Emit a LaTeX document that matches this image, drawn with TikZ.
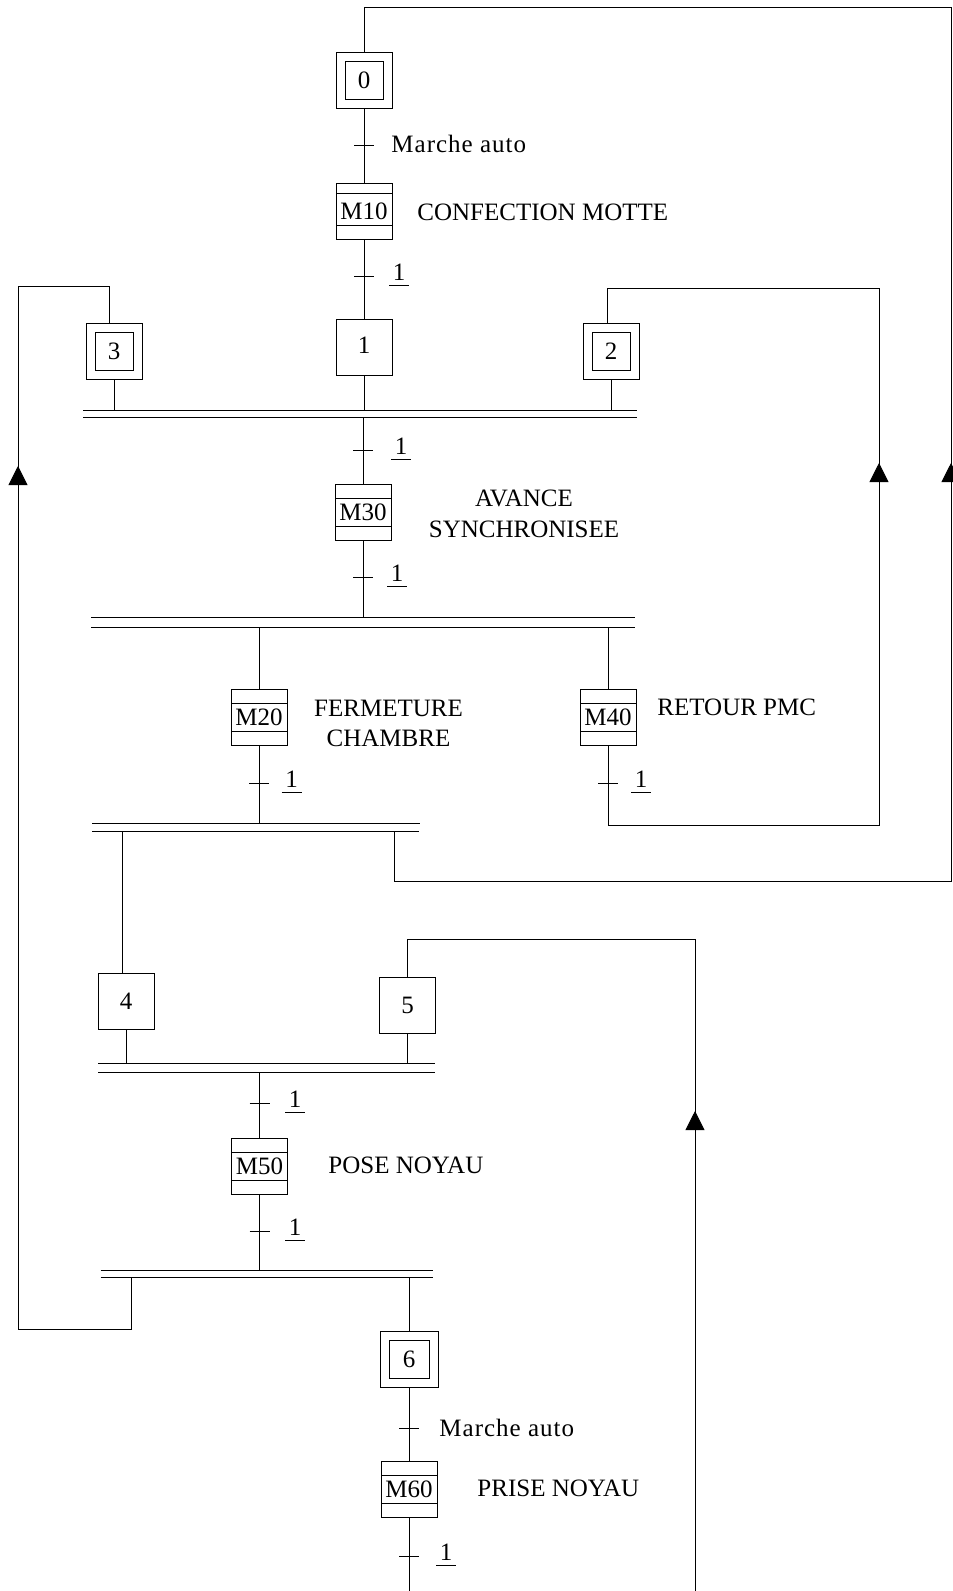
\documentclass[tikz,border=0pt]{standalone}
\usepackage{fontspec}
\setmainfont{Liberation Serif}
\usetikzlibrary{arrows.meta}
\newcommand{\fsz}{\fontsize{25}{27}\selectfont}
\newcommand{\ulone}{\vbox{\hbox to 20pt{\hss 1\hss}\kern4.5pt\hrule height 0.8pt}}
\begin{document}
\begin{tikzpicture}[x=1pt,y=-1pt,line width=0.9pt,
  every node/.style={font=\fsz},
  stepbox/.style={draw,minimum width=56pt,minimum height=56pt,inner sep=0pt},
  initstep/.style={stepbox,path picture={\draw ([shift={(9pt,9pt)}]path picture bounding box.south west) rectangle ([shift={(-9pt,-9pt)}]path picture bounding box.north east);}},
  macrostep/.style={stepbox,path picture={
     \draw ([yshift=-#1pt]path picture bounding box.north west) -- ([yshift=-#1pt]path picture bounding box.north east);
     \draw ([yshift=14pt]path picture bounding box.south west) -- ([yshift=14pt]path picture bounding box.south east);}},
  macrostep/.default=14,
  tickn/.style={inner sep=0pt,minimum size=0pt},
  lbl/.style={inner sep=0pt},
  spaced/.style={font=\fsz\addfontfeature{LetterSpace=4}},
  arr/.style={-{Triangle[width=19pt,length=19pt]}},
]
\useasboundingbox (0,0) rectangle (953,1591);

% ---------- steps ----------
\node[initstep] (s0) at (364,80) {0};
\node[macrostep=10] (m10) at (364,211.5) {M10};
\node[stepbox] (s1) at (364,347.5) {\raisebox{4pt}{1}};
\node[initstep] (s3) at (114,351.5) {3};
\node[initstep] (s2) at (611,351.5) {2};
\node[macrostep] (m30) at (363,512) {M30};
\node[macrostep] (m20) at (259,717.5) {M20};
\node[macrostep] (m40) at (608,717.5) {M40};
\node[stepbox] (s4) at (126,1001.3) {4};
\node[stepbox] (s5) at (407.5,1005.5) {5};
\node[macrostep] (m50) at (259.5,1166.7) {M50};
\node[initstep,minimum width=58pt] (s6) at (409,1359.5) {6};
\node[macrostep] (m60) at (409,1489.5) {M60};

% ---------- transitions ----------
\node[tickn] (t0) at (364,145) {\rule[-0.45pt]{20pt}{0.9pt}};
\node[tickn] (t1) at (364,276) {\rule[-0.45pt]{20pt}{0.9pt}};
\node[tickn] (t2) at (363,450) {\rule[-0.45pt]{20pt}{0.9pt}};
\node[tickn] (t3) at (363,577) {\rule[-0.45pt]{20pt}{0.9pt}};
\node[tickn] (t4) at (259,783) {\rule[-0.45pt]{20pt}{0.9pt}};
\node[tickn] (t5) at (608,783) {\rule[-0.45pt]{20pt}{0.9pt}};
\node[tickn] (t6) at (259.5,1103) {\rule[-0.45pt]{20pt}{0.9pt}};
\node[tickn] (t7) at (259.5,1231) {\rule[-0.45pt]{20pt}{0.9pt}};
\node[tickn] (t8) at (409,1428) {\rule[-0.45pt]{20pt}{0.9pt}};
\node[tickn] (t9) at (409,1556) {\rule[-0.45pt]{20pt}{0.9pt}};

% ---------- labels ----------
\node[lbl,spaced,anchor=west] (l0) at (391,144) {Marche auto};
\node[lbl,anchor=west] (d10) at (417,212.5) {CONFECTION MOTTE};
\node[lbl] (l1) at (399,275) {\ulone};
\node[lbl] (l2) at (401,449) {\ulone};
\node[lbl] (l3) at (397,576) {\ulone};
\node[lbl,align=center] (d30) at (524,513.5) {AVANCE\\[4pt]SYNCHRONISEE};
\node[lbl,align=center] (d20) at (388.5,723) {FERMETURE\\[3pt]CHAMBRE};
\node[lbl,anchor=west] (d40) at (657,707) {RETOUR PMC};
\node[lbl] (l4) at (291.5,782) {\ulone};
\node[lbl] (l5) at (641,782) {\ulone};
\node[lbl] (l6) at (295,1102) {\ulone};
\node[lbl,anchor=west] (d50) at (328,1165) {POSE NOYAU};
\node[lbl] (l7) at (295,1230) {\ulone};
\node[lbl,spaced,anchor=west] (l8) at (439,1428) {Marche auto};
\node[lbl,anchor=west] (d60) at (477,1488.3) {PRISE NOYAU};
\node[lbl] (l9) at (446,1555) {\ulone};

% ---------- double bars ----------
\coordinate (b1a) at (83,410);   \coordinate (b1b) at (637,410);
\coordinate (b1c) at (83,417.5); \coordinate (b1d) at (637,417.5);
\coordinate (b2a) at (91,617.7); \coordinate (b2b) at (635,617.7);
\coordinate (b2c) at (91,627.7); \coordinate (b2d) at (635,627.7);
\coordinate (b3a) at (92,823);   \coordinate (b3b) at (420,823);
\coordinate (b3c) at (92,831);   \coordinate (b3d) at (419,831);
\coordinate (b4a) at (98,1063.7); \coordinate (b4b) at (435,1063.7);
\coordinate (b4c) at (98,1072);   \coordinate (b4d) at (435,1072);
\coordinate (b5a) at (100.7,1270);   \coordinate (b5b) at (432.7,1270);
\coordinate (b5c) at (100.7,1277.7); \coordinate (b5d) at (432.7,1277.7);
\draw (b1a) -- (b1b); \draw (b1c) -- (b1d);
\draw (b2a) -- (b2b); \draw (b2c) -- (b2d);
\draw (b3a) -- (b3b); \draw (b3c) -- (b3d);
\draw (b4a) -- (b4b); \draw (b4c) -- (b4d);
\draw (b5a) -- (b5b); \draw (b5c) -- (b5d);

% ---------- loop corner points ----------
\coordinate (rtop) at (951,7);
\coordinate (rbot) at (951,881);
\coordinate (b3r) at (394,831);
\coordinate (b3l) at (122,831);
\coordinate (ltop) at (18,286);
\coordinate (lbot) at (18,1329);
\coordinate (b5l) at (131,1277.7);
\coordinate (rrtop) at (879,288);
\coordinate (rrbot) at (879,825);
\coordinate (r5top) at (695,939);
\coordinate (r5bot) at (695,1591);
\coordinate (endc) at (409,1591);
\coordinate (aR1) at (951,490);  \coordinate (aR1t) at (951,463);
\coordinate (aR2) at (879,490);  \coordinate (aR2t) at (879,463);
\coordinate (aL) at (18,492);    \coordinate (aLt) at (18,466);
\coordinate (aB) at (695,1138);  \coordinate (aBt) at (695,1111);

% ---------- main links ----------
\draw (s0) -- (m10);
\draw (m10) -- (s1);
\draw (s1.south) -- (s1.south |- b1a);
\draw (s3.south) -- (s3.south |- b1a);
\draw (s2.south) -- (s2.south |- b1a);
\draw (b1c -| m30.north) -- (m30.north);
\draw (m30.south) -- (m30.south |- b2a);
\draw (b2c -| m20.north) -- (m20.north);
\draw (b2c -| m40.north) -- (m40.north);
\draw (m20.south) -- (m20.south |- b3a);
\draw (b3l) -- (b3l |- s4.north);
\draw (s4.south) -- (s4.south |- b4a);
\draw (s5.south) -- (s5.south |- b4a);
\draw (b4c -| m50.north) -- (m50.north);
\draw (m50.south) -- (m50.south |- b5a);
\draw (b5c -| s6.north) -- (s6.north);
\draw (s6) -- (m60);
\draw (m60.south) -- (endc);

% ---------- return loops ----------
\draw (b3r) -- (b3r |- rbot) -- (rbot) -- (rtop) -- (s0.north |- rtop) -- (s0.north);
\draw (m40.south) -- (m40.south |- rrbot) -- (rrbot) -- (rrtop) -- ([xshift=-4pt]s2.north |- rrtop) -- ([xshift=-4pt]s2.north);
\draw (b5l) -- (b5l |- lbot) -- (lbot) -- (ltop) -- ([xshift=-5pt]s3.north |- ltop) -- ([xshift=-5pt]s3.north);
\draw (r5bot) -- (r5top) -- (s5.north |- r5top) -- (s5.north);

% ---------- arrowheads ----------
\draw[arr] (aR1) -- (aR1t);
\draw[arr] (aR2) -- (aR2t);
\draw[arr] (aL) -- (aLt);
\draw[arr] (aB) -- (aBt);
\end{tikzpicture}
\end{document}
